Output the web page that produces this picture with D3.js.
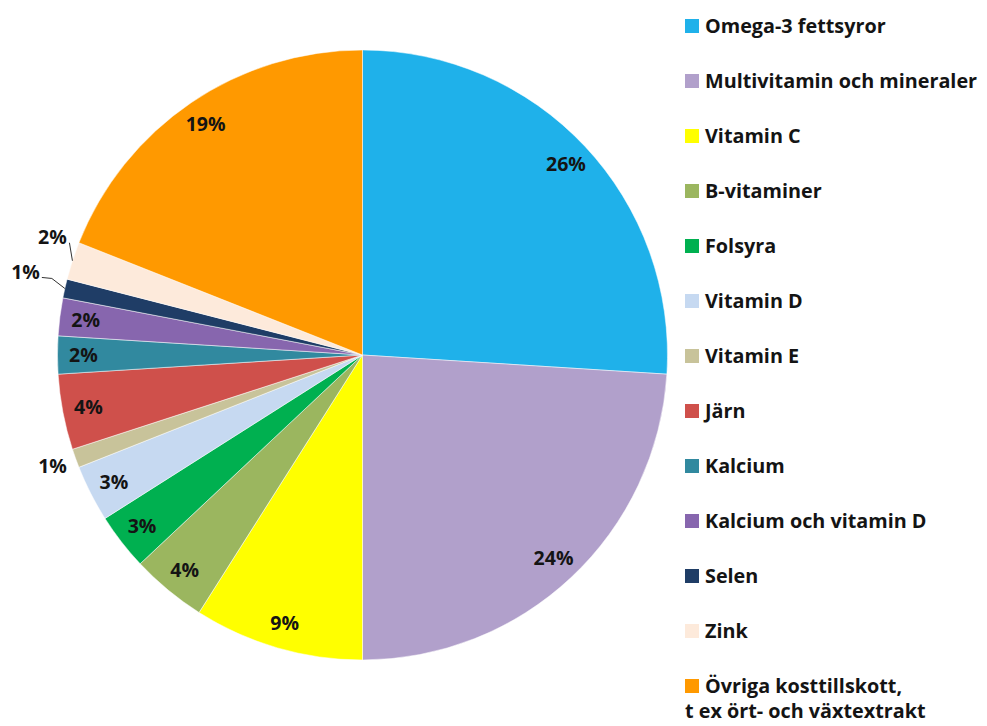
<!DOCTYPE html>
<html>
<head>
<meta charset="utf-8">
<script src="https://cdn.jsdelivr.net/npm/d3@7"></script>
<style>
  html, body { margin: 0; padding: 0; background: #ffffff; }
  svg { display: block; }
  text { font-family: "Open Sans", Lato, sans-serif; font-weight: 700; fill: #141414; }
</style>
</head>
<body>
<svg id="chart" width="987" height="726"></svg>
<script>
// Supplement categories (legend order = slice order, clockwise from 12 o'clock)
const categories = [
  "Omega-3 fettsyror",
  "Multivitamin och mineraler",
  "Vitamin C",
  "B-vitaminer",
  "Folsyra",
  "Vitamin D",
  "Vitamin E",
  "Järn",
  "Kalcium",
  "Kalcium och vitamin D",
  "Selen",
  "Zink",
  "Övriga kosttillskott,\nt ex ört- och växtextrakt"
];

// Share of users, percent
const values = [26, 24, 9, 4, 3, 3, 1, 4, 2, 2, 1, 2, 19];

const colors = [
  "#1fb1ea", "#b1a0cb", "#ffff00", "#9bb65f", "#00b050", "#c6d9f1",
  "#c8c39a", "#cf504b", "#31899f", "#8766ae", "#1f3d66", "#fdeadb", "#ff9900"
];

const svg = d3.select("#chart");
const cx = 362.5, cy = 355, R = 305;

const pie = d3.pie().sort(null).value(d => d.value);
const arcs = pie(values.map((v, i) => ({ name: categories[i], value: v, color: colors[i] })));
const arc = d3.arc().innerRadius(0).outerRadius(R);

const g = svg.append("g").attr("transform", `translate(${cx},${cy})`);

g.selectAll("path.slice")
  .data(arcs)
  .join("path")
  .attr("class", "slice")
  .attr("d", arc)
  .attr("fill", d => d.data.color)
  .attr("stroke", "#ffffff")
  .attr("stroke-width", 0.5);

// Percentage labels
const pct = d => `${d.data.value}%`;
const polar = (r, a) => [r * Math.sin(a), -r * Math.cos(a)];
const mid = d => (d.startAngle + d.endAngle) / 2;

const labelSize = 19.5;
arcs.forEach(d => {
  const name = d.data.name;
  const a = mid(d);
  if (name === "Vitamin E") {
    const [x, y] = polar(R * 1.08, a);
    g.append("text").attr("x", x).attr("y", y).attr("text-anchor", "middle")
      .attr("dy", "0.35em").style("font-size", labelSize + "px").text(pct(d));
  } else if (name === "Zink") {
    const [px, py] = polar(R, a);
    g.append("path").attr("d", d3.line()([[px, py], [px - 3, py - 18]]))
      .attr("fill", "none").attr("stroke", "#333").attr("stroke-width", 1);
    g.append("text").attr("x", px - 20).attr("y", py - 24).attr("text-anchor", "middle")
      .attr("dy", "0.35em").style("font-size", labelSize + "px").text(pct(d));
  } else if (name === "Selen") {
    const [px, py] = polar(R, a);
    g.append("path").attr("d", d3.line()([[px, py], [px - 13, py - 10], [px - 23, py - 11]]))
      .attr("fill", "none").attr("stroke", "#333").attr("stroke-width", 1);
    g.append("text").attr("x", px - 25).attr("y", py - 16).attr("text-anchor", "end")
      .attr("dy", "0.35em").style("font-size", labelSize + "px").text(pct(d));
  } else {
    const [x, y] = polar(R * 0.915, a);
    g.append("text").attr("x", x).attr("y", y).attr("text-anchor", "middle")
      .attr("dy", "0.35em").style("font-size", labelSize + "px").text(pct(d));
  }
});

// Legend
const legendX = 685, legendY0 = 26, legendStep = 55;
const legend = svg.append("g");
arcs.forEach((d, i) => {
  const yc = legendY0 + i * legendStep;
  legend.append("rect").attr("x", legendX).attr("y", yc - 7).attr("width", 14).attr("height", 14)
    .attr("fill", d.data.color);
  const lines = d.data.name.split("\n");
  const t = legend.append("text").attr("x", legendX + 20).attr("y", yc + 7)
    .style("font-size", "19.8px");
  lines.forEach((ln, j) => {
    t.append("tspan").attr("x", j === 0 ? legendX + 20 : legendX).attr("dy", j === 0 ? 0 : 25).text(ln);
  });
});
</script>
</body>
</html>
